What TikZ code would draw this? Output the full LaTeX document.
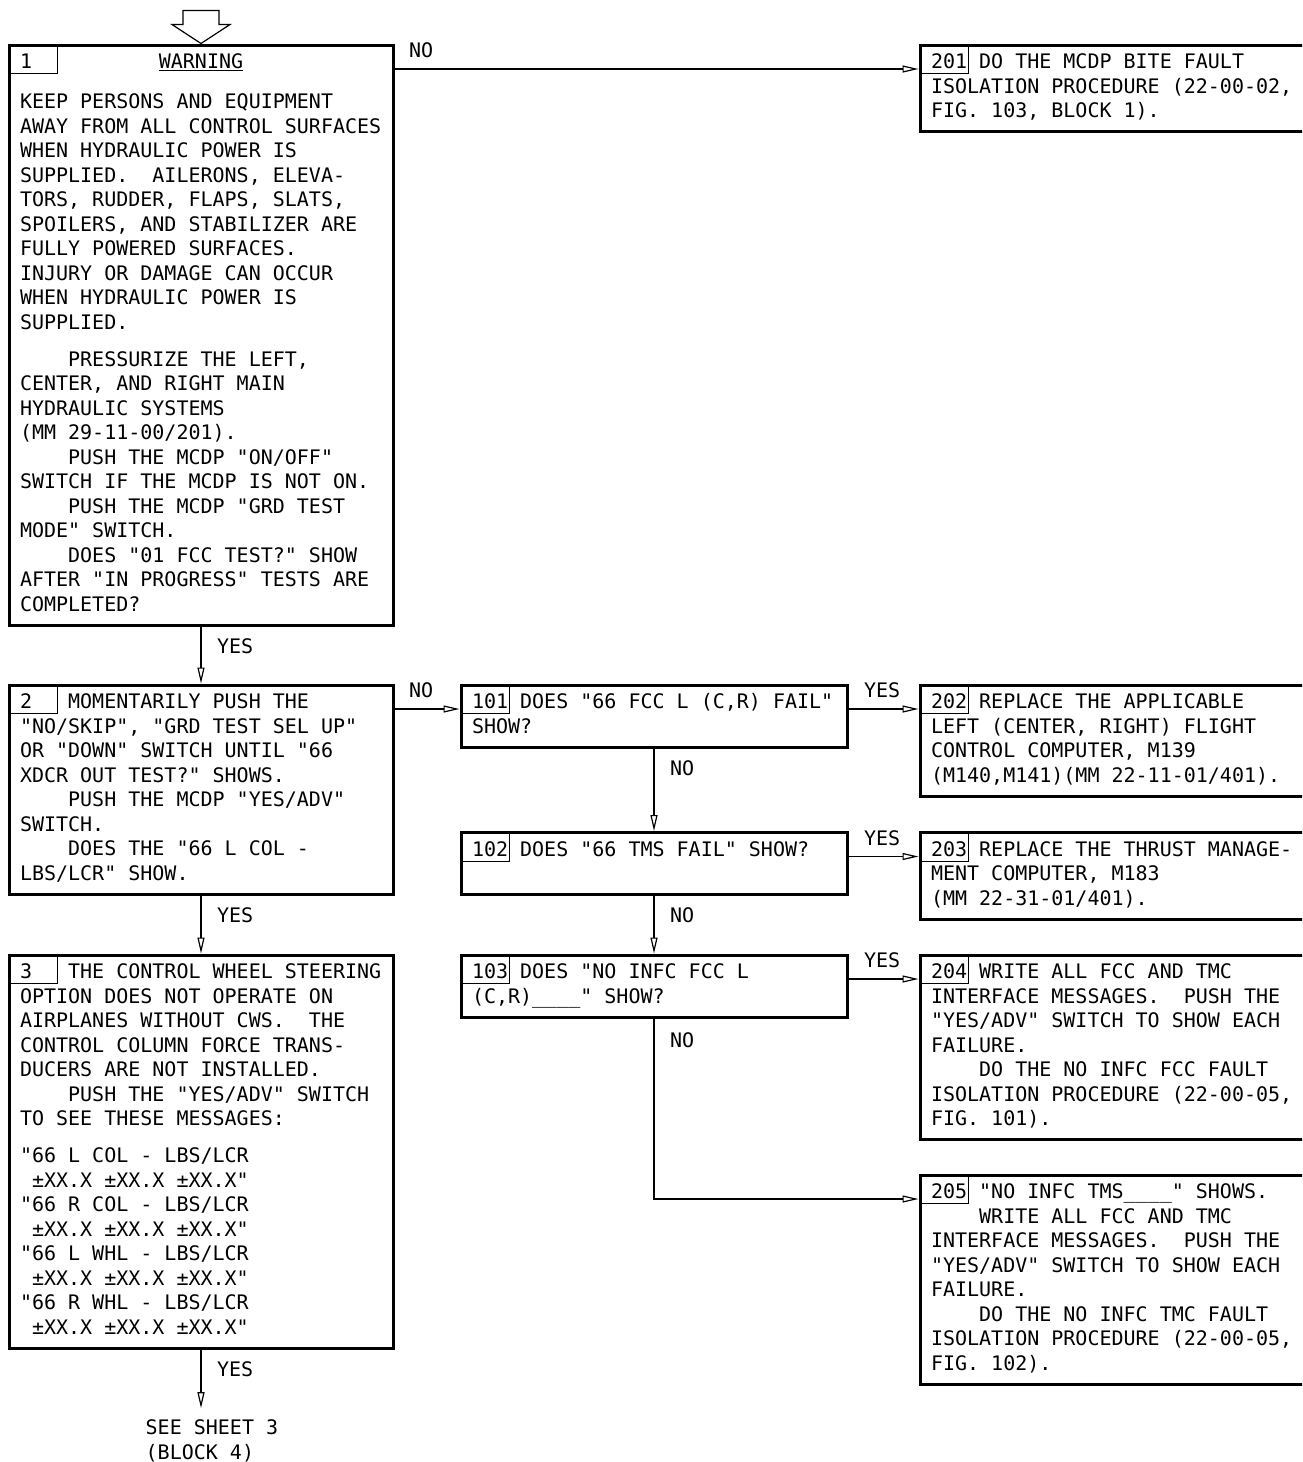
\documentclass[tikz,border=0pt]{standalone}
\usepackage{fontspec}
\newfontfamily\cadfont{DejaVu Sans Mono}
\usetikzlibrary{positioning,arrows.meta}
\newcommand{\blkfont}{\cadfont\fontsize{20}{24.5}\selectfont\frenchspacing}
\newcommand{\monospc}{\spaceskip=\fontcharwd\font`0\relax\xspaceskip=\spaceskip\strut}
\newcommand{\indt}{\hphantom{0000}}

\begin{document}
\begin{tikzpicture}[x=1pt, y=-1pt, >={Triangle[open, length=16pt, width=7pt]},
  blk/.style={draw, line width=3pt, anchor=north west, outer sep=0pt, inner xsep=11pt, inner ysep=6.6pt, align=left, font=\blkfont, execute at begin node=\monospc, execute at end node=\strut},
  lft/.style={blk, text width=362pt},
  mid/.style={blk, text width=364pt},
  tag/.style={draw, line width=1pt, anchor=north west, outer sep=0pt, inner sep=0pt, minimum width=48pt, minimum height=28.5pt},
  flow/.style={->, line width=1.2pt, shorten <=1.5pt, shorten >=1.5pt},
  lbl/.style={font=\blkfont, inner sep=0pt, anchor=base west}]
\clip (0,0) rectangle (1302,1462);
\node[lft] (b1) at (9,45) {\rlap{1}\hfill\underline{WARNING}\hfill\mbox{}\\[15.5pt]
KEEP PERSONS AND EQUIPMENT\\
AWAY FROM ALL CONTROL SURFACES\\
WHEN HYDRAULIC POWER IS\\
SUPPLIED.~~AILERONS, ELEVA-\\
TORS, RUDDER, FLAPS, SLATS,\\
SPOILERS, AND STABILIZER ARE\\
FULLY POWERED SURFACES.\\
INJURY OR DAMAGE CAN OCCUR\\
WHEN HYDRAULIC POWER IS\\
SUPPLIED.\\[12.5pt]
\indt PRESSURIZE THE LEFT,\\
CENTER, AND RIGHT MAIN\\
HYDRAULIC SYSTEMS\\
(MM 29-11-00/201).\\
\indt PUSH THE MCDP "ON/OFF"\\
SWITCH IF THE MCDP IS NOT ON.\\
\indt PUSH THE MCDP "GRD TEST\\
MODE" SWITCH.\\
\indt DOES "01 FCC TEST?" SHOW\\
AFTER "IN PROGRESS" TESTS ARE\\
COMPLETED?};
\node[lft] (b2) at (9,685) {2\hphantom{000}MOMENTARILY PUSH THE\\
"NO/SKIP", "GRD TEST SEL UP"\\
OR "DOWN" SWITCH UNTIL "66\\
XDCR OUT TEST?" SHOWS.\\
\indt PUSH THE MCDP "YES/ADV"\\
SWITCH.\\
\indt DOES THE "66 L COL -\\
LBS/LCR" SHOW.};
\node[lft] (b3) at (9,955) {3\hphantom{000}THE CONTROL WHEEL STEERING\\
OPTION DOES NOT OPERATE ON\\
AIRPLANES WITHOUT CWS.~~THE\\
CONTROL COLUMN FORCE TRANS-\\
DUCERS ARE NOT INSTALLED.\\
\indt PUSH THE "YES/ADV" SWITCH\\
TO SEE THESE MESSAGES:\\[12.5pt]
"66 L COL - LBS/LCR\\
\hphantom{0}±XX.X ±XX.X ±XX.X"\\
"66 R COL - LBS/LCR\\
\hphantom{0}±XX.X ±XX.X ±XX.X"\\
"66 L WHL - LBS/LCR\\
\hphantom{0}±XX.X ±XX.X ±XX.X"\\
"66 R WHL - LBS/LCR\\
\hphantom{0}±XX.X ±XX.X ±XX.X"};
\node[mid] (b101) at (461,685) {101 DOES "66 FCC L (C,R) FAIL"\\
SHOW?};
\node[mid] (b102) at (461,832.5) {102 DOES "66 TMS FAIL" SHOW?\\
\mbox{}};
\node[mid] (b103) at (461,955) {103 DOES "NO INFC FCC L\\
(C,R)\_\_\_\_" SHOW?};
\node[lft] (b201) at (920,45) {201 DO THE MCDP BITE FAULT\\
ISOLATION PROCEDURE (22-00-02,\\
FIG. 103, BLOCK 1).};
\node[lft] (b202) at (920,685) {202 REPLACE THE APPLICABLE\\
LEFT (CENTER, RIGHT) FLIGHT\\
CONTROL COMPUTER, M139\\
(M140,M141)(MM 22-11-01/401).};
\node[lft] (b203) at (920,832.5) {203 REPLACE THE THRUST MANAGE-\\
MENT COMPUTER, M183\\
(MM 22-31-01/401).};
\node[lft] (b204) at (920,955) {204 WRITE ALL FCC AND TMC\\
INTERFACE MESSAGES.~~PUSH THE\\
"YES/ADV" SWITCH TO SHOW EACH\\
FAILURE.\\
\indt DO THE NO INFC FCC FAULT\\
ISOLATION PROCEDURE (22-00-05,\\
FIG. 101).};
\node[lft] (b205) at (920,1175) {205 "NO INFC TMS\_\_\_\_" SHOWS.\\
\indt WRITE ALL FCC AND TMC\\
INTERFACE MESSAGES.~~PUSH THE\\
"YES/ADV" SWITCH TO SHOW EACH\\
FAILURE.\\
\indt DO THE NO INFC TMC FAULT\\
ISOLATION PROCEDURE (22-00-05,\\
FIG. 102).};
\node[tag] (n1) at (b1.north west) {};
\node[tag] (n2) at (b2.north west) {};
\node[tag] (n3) at (b3.north west) {};
\node[tag] (n101) at (b101.north west) {};
\node[tag] (n102) at (b102.north west) {};
\node[tag] (n103) at (b103.north west) {};
\node[tag] (n201) at (b201.north west) {};
\node[tag] (n202) at (b202.north west) {};
\node[tag] (n203) at (b203.north west) {};
\node[tag] (n204) at (b204.north west) {};
\node[tag] (n205) at (b205.north west) {};
\coordinate[below=61.5pt of b3] (fin);
\node[font=\blkfont, align=left, anchor=north west, inner sep=0pt, execute at begin node=\monospc] (sheet) at ([xshift=-55.5pt, yshift=-10pt]fin) {SEE SHEET 3\\(BLOCK 4)};
\draw[line width=1.2pt, line join=miter] ([yshift=1.5pt]b1.north) -- ++(-29,-19) -- ++(11,0) -- ++(0,-14) -- ++(36,0) -- ++(0,14) -- ++(11,0) -- cycle;
\draw[flow] ([yshift=-24pt]b1.north east) -- node[lbl, at start, xshift=15.5pt, yshift=11.5pt] (l1) {NO} ([yshift=-24pt]b201.north west);
\draw[flow] (b1) -- node[lbl, at start, xshift=15.5pt, yshift=-28pt] (l2) {YES} (b2);
\draw[flow] ([yshift=-24pt]b2.north east) -- node[lbl, at start, xshift=15.5pt, yshift=11.5pt] (l3) {NO} ([yshift=-24pt]b101.north west);
\draw[flow] (b2) -- node[lbl, at start, xshift=15.5pt, yshift=-28pt] (l4) {YES} (b3);
\draw[flow] (b3) -- node[lbl, at start, xshift=15.5pt, yshift=-28pt] (l5) {YES} (fin);
\draw[flow] ([yshift=-24pt]b101.north east) -- node[lbl, at start, xshift=16.5pt, yshift=11.5pt] (l6) {YES} ([yshift=-24pt]b202.north west);
\draw[flow] (b101) -- node[lbl, at start, xshift=15.5pt, yshift=-28pt] (l7) {NO} (b102);
\draw[flow] ([yshift=-24pt]b102.north east) -- node[lbl, at start, xshift=16.5pt, yshift=11.5pt] (l8) {YES} ([yshift=-24pt]b203.north west);
\draw[flow] (b102) -- node[lbl, at start, xshift=15.5pt, yshift=-28pt] (l9) {NO} (b103);
\draw[flow] ([yshift=-24pt]b103.north east) -- node[lbl, at start, xshift=16.5pt, yshift=11.5pt] (l10) {YES} ([yshift=-24pt]b204.north west);
\draw[flow] (b103.south) |- node[lbl, at start, xshift=15.5pt, yshift=-30pt] (l11) {NO} ([yshift=-24pt]b205.north west);
\end{tikzpicture}
\end{document}
